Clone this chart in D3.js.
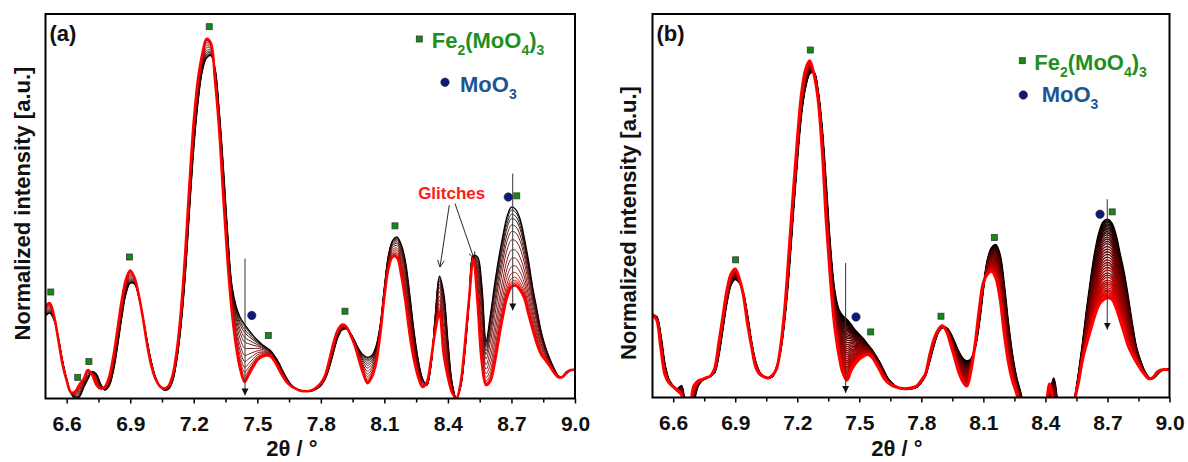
<!DOCTYPE html>
<html>
<head>
<meta charset="utf-8">
<script src="https://cdn.jsdelivr.net/npm/d3@7"></script>
<style>
  body { margin: 0; background: #fff; }
  svg { display: block; }
  text { font-family: "Liberation Sans", Arial, sans-serif; font-weight: bold; }
</style>
</head>
<body>
<svg id="chart" width="1188" height="462"></svg>
<script>
// 2θ sampling positions (degrees)
const twoTheta = [
  6.5,6.52,6.54,6.56,6.58,6.6,6.62,6.64,6.66,6.68,
  6.7,6.72,6.74,6.76,6.78,6.8,6.82,6.84,6.86,6.88,
  6.9,6.92,6.94,6.96,6.98,7,7.02,7.04,7.06,7.08,
  7.1,7.12,7.14,7.16,7.18,7.2,7.22,7.24,7.26,7.28,
  7.3,7.32,7.34,7.36,7.38,7.4,7.42,7.44,7.46,7.48,
  7.5,7.52,7.54,7.56,7.58,7.6,7.62,7.64,7.66,7.68,
  7.7,7.72,7.74,7.76,7.78,7.8,7.82,7.84,7.86,7.88,
  7.9,7.92,7.94,7.96,7.98,8,8.02,8.04,8.06,8.08,
  8.1,8.12,8.14,8.16,8.18,8.2,8.22,8.24,8.26,8.28,
  8.3,8.32,8.34,8.36,8.38,8.4,8.42,8.44,8.46,8.48,
  8.5,8.52,8.54,8.56,8.58,8.6,8.62,8.64,8.66,8.68,
  8.7,8.72,8.74,8.76,8.78,8.8,8.82,8.84,8.86,8.88,
  8.9,8.92,8.94,8.96,8.98,9
];

// (a) first and last pattern of the series, normalized intensity
const firstScanA = [
  0.215,0.222,0.205,0.160,0.100,0.050,0.014,0.000,0.004,0.028,
  0.050,0.070,0.064,0.038,0.022,0.032,0.070,0.135,0.210,0.272,
  0.300,0.298,0.265,0.212,0.150,0.095,0.055,0.032,0.022,0.024,
  0.045,0.100,0.190,0.320,0.490,0.650,0.770,0.850,0.885,0.892,
  0.860,0.750,0.600,0.430,0.295,0.240,0.210,0.193,0.178,0.164,
  0.152,0.142,0.134,0.126,0.112,0.095,0.072,0.052,0.036,0.027,
  0.022,0.019,0.019,0.020,0.025,0.033,0.050,0.080,0.120,0.158,
  0.178,0.181,0.170,0.150,0.128,0.113,0.107,0.112,0.135,0.190,
  0.290,0.375,0.412,0.420,0.400,0.355,0.270,0.175,0.100,0.052,
  0.034,0.085,0.215,0.318,0.275,0.150,0.040,0.000,0.030,0.120,
  0.250,0.372,0.368,0.295,0.150,0.215,0.295,0.365,0.425,0.475,
  0.498,0.492,0.468,0.420,0.360,0.290,0.232,0.175,0.135,0.105,
  0.080,0.060,0.055,0.065,0.073,0.075
];
const lastScanA = [
  0.240,0.248,0.215,0.155,0.090,0.047,0.016,0.018,0.036,0.050,
  0.074,0.062,0.036,0.026,0.030,0.055,0.108,0.180,0.255,0.310,
  0.333,0.315,0.270,0.210,0.140,0.085,0.050,0.032,0.026,0.032,
  0.060,0.125,0.230,0.380,0.560,0.720,0.830,0.895,0.935,0.925,
  0.830,0.700,0.520,0.355,0.225,0.135,0.075,0.043,0.062,0.082,
  0.100,0.108,0.112,0.110,0.098,0.078,0.058,0.042,0.032,0.026,
  0.021,0.019,0.019,0.022,0.029,0.040,0.060,0.100,0.145,0.178,
  0.192,0.187,0.165,0.138,0.100,0.065,0.040,0.055,0.090,0.165,
  0.265,0.340,0.369,0.366,0.320,0.250,0.165,0.100,0.055,0.030,
  0.042,0.100,0.175,0.222,0.115,0.055,0.015,0.000,0.040,0.140,
  0.260,0.365,0.250,0.095,0.035,0.045,0.090,0.155,0.215,0.265,
  0.290,0.294,0.282,0.262,0.220,0.180,0.142,0.115,0.100,0.085,
  0.068,0.056,0.056,0.068,0.074,0.075
];
// (a) height of the 8.70° reflection in each successive scan
const peakHeightsA = [0.498,0.490,0.479,0.468,0.451,0.434,0.412,0.386,0.364,0.343,0.325,0.312,0.304,0.299,0.295,0.290];

// (b) first and last pattern of the series
const firstScanB = [
  0.215,0.210,0.160,0.085,0.045,0.030,0.022,0.030,-0.030,-0.050,
  -0.010,0.030,0.045,0.050,0.056,0.065,0.110,0.180,0.250,0.295,
  0.308,0.300,0.270,0.210,0.140,0.090,0.064,0.054,0.050,0.055,
  0.078,0.125,0.210,0.330,0.480,0.620,0.740,0.810,0.845,0.848,
  0.800,0.700,0.550,0.390,0.280,0.230,0.212,0.203,0.190,0.175,
  0.164,0.152,0.138,0.125,0.108,0.090,0.068,0.048,0.036,0.028,
  0.024,0.022,0.022,0.024,0.028,0.040,0.058,0.095,0.135,0.168,
  0.182,0.182,0.168,0.145,0.120,0.102,0.095,0.100,0.130,0.195,
  0.285,0.358,0.390,0.398,0.372,0.295,0.195,0.112,0.052,0.012,
  -0.040,-0.080,-0.080,-0.080,-0.080,-0.050,0.000,0.050,-0.020,-0.080,
  -0.080,-0.080,-0.010,0.060,0.140,0.230,0.310,0.380,0.430,0.458,
  0.464,0.455,0.425,0.375,0.325,0.260,0.190,0.130,0.095,0.068,
  0.052,0.050,0.060,0.070,0.073,0.073
];
const lastScanB = [
  0.216,0.202,0.130,0.060,0.038,0.028,0.018,0.008,-0.030,-0.020,
  0.030,0.043,0.047,0.052,0.056,0.075,0.140,0.210,0.280,0.322,
  0.335,0.310,0.265,0.190,0.130,0.078,0.060,0.054,0.051,0.058,
  0.075,0.135,0.235,0.380,0.530,0.670,0.790,0.855,0.878,0.845,
  0.780,0.650,0.460,0.310,0.190,0.115,0.065,0.045,0.070,0.088,
  0.100,0.108,0.112,0.106,0.090,0.070,0.050,0.038,0.031,0.027,
  0.024,0.023,0.024,0.026,0.031,0.045,0.062,0.110,0.150,0.175,
  0.187,0.175,0.142,0.105,0.068,0.042,0.030,0.070,0.140,0.230,
  0.300,0.322,0.329,0.312,0.260,0.170,0.095,0.045,0.012,-0.030,
  -0.060,-0.080,-0.080,-0.080,-0.080,-0.040,0.035,-0.020,-0.080,-0.080,
  -0.080,-0.080,-0.010,0.040,0.100,0.142,0.180,0.215,0.243,0.255,
  0.260,0.257,0.237,0.204,0.170,0.135,0.112,0.092,0.075,0.060,
  0.049,0.052,0.066,0.072,0.073,0.072
];
const peakHeightsB = [
  0.464,0.460,0.457,0.453,0.450,0.446,0.442,0.438,0.433,0.429,
  0.424,0.418,0.413,0.407,0.401,0.394,0.387,0.380,0.373,0.366,
  0.359,0.352,0.346,0.339,0.332,0.325,0.319,0.313,0.306,0.301,
  0.296,0.291,0.286,0.281,0.277,0.273,0.270,0.267,0.264,0.262,0.260
];

// axis ticks
const majorTicks = [6.6, 6.9, 7.2, 7.5, 7.8, 8.1, 8.4, 8.7, 9.0];
const minorTicks = [6.75, 7.05, 7.35, 7.65, 7.95, 8.25, 8.55, 8.85];

// phase reflection markers [2θ, intensity]
const feMarksA = [[6.525,0.277],[6.652,0.055],[6.705,0.096],[6.896,0.368],[7.273,0.967],[7.552,0.164],[7.914,0.227],[8.150,0.449],[8.725,0.527]];
const moMarksA = [[7.474,0.216],[8.685,0.524]];
const feMarksB = [[6.902,0.359],[7.263,0.906],[7.555,0.171],[7.895,0.212],[8.153,0.417],[8.723,0.484]];
const moMarksB = [[7.484,0.210],[8.664,0.478]];

// trend arrows [2θ, from, to]
const trendArrowsA = [[7.442,0.364,0.008],[8.706,0.585,0.229]];
const trendArrowsB = [[7.434,0.351,0.012],[8.699,0.517,0.177]];
// "Glitches" pointers [[x0,y0],[x1,y1]]
const glitchPointers = [[[8.4065,0.503],[8.3626,0.342]],[[8.4335,0.507],[8.5232,0.364]]];
const glitchLabel = [8.4178, 0.518];

const svg = d3.select("#chart");
const defs = svg.append("defs");

defs.append("marker").attr("id", "headFilled")
  .attr("viewBox", "0 0 10 10").attr("refX", 10).attr("refY", 5)
  .attr("markerUnits", "userSpaceOnUse").attr("markerWidth", 7).attr("markerHeight", 11)
  .attr("orient", "auto")
  .append("path").attr("d", "M0,0 L10,5 L0,10 Z").attr("fill", "#111");
defs.append("marker").attr("id", "headOpen")
  .attr("viewBox", "0 0 10 10").attr("refX", 10).attr("refY", 5)
  .attr("markerUnits", "userSpaceOnUse").attr("markerWidth", 8).attr("markerHeight", 7)
  .attr("orient", "auto")
  .append("path").attr("d", "M0,0 L10,5 L0,10").attr("fill", "none").attr("stroke", "#111").attr("stroke-width", 1.2);

function scansFrom(first, last, heights) {
  const h0 = heights[0], hN = heights[heights.length - 1];
  return heights.map(h => {
    const w = (h0 - h) / (h0 - hN);
    return twoTheta.map((t, j) => [t, first[j] + w * (last[j] - first[j])]);
  });
}

function drawPanel(cfg) {
  const { id, left, right, top, bottom } = cfg;
  const x = d3.scaleLinear().domain([6.5, 9.0]).range([left, right]);
  const y = d3.scaleLinear().domain([0, 1]).range([bottom, top]);
  const g = svg.append("g");

  defs.append("clipPath").attr("id", "clip-" + id)
    .append("rect").attr("x", left).attr("y", top).attr("width", right - left).attr("height", bottom - top);

  const scans = scansFrom(cfg.first, cfg.last, cfg.heights);
  const n = scans.length;
  const color = d3.interpolateRgb("#000000", "#ff0000");
  const line = d3.line().x(d => x(d[0])).y(d => y(d[1])).curve(d3.curveCatmullRom.alpha(0.5));

  g.append("g").attr("clip-path", `url(#clip-${id})`)
    .selectAll("path").data(scans).join("path")
    .attr("d", line)
    .attr("fill", "none")
    .attr("stroke", (d, i) => color(i / (n - 1)))
    .attr("stroke-width", (d, i) => i === n - 1 ? cfg.lastWidth : (i === 0 ? cfg.firstWidth : cfg.width))
    .attr("stroke-linejoin", "round");

  // axes
  const ax = g.append("g").attr("transform", `translate(0,${bottom})`)
    .call(d3.axisBottom(x).tickValues(majorTicks).tickFormat(d3.format(".1f")).tickSize(5).tickPadding(13));
  ax.select(".domain").remove();
  ax.selectAll("line").attr("stroke", "#000").attr("stroke-width", 1.5);
  ax.selectAll("text").attr("font-size", 21).attr("fill", "#111")
    .attr("font-family", '"Liberation Sans", Arial, sans-serif').attr("font-weight", "bold");
  const axm = g.append("g").attr("transform", `translate(0,${bottom})`)
    .call(d3.axisBottom(x).tickValues(minorTicks).tickFormat("").tickSize(4));
  axm.select(".domain").remove();
  axm.selectAll("line").attr("stroke", "#000").attr("stroke-width", 1.5);

  g.append("rect").attr("x", left).attr("y", top).attr("width", right - left).attr("height", bottom - top)
    .attr("fill", "none").attr("stroke", "#000").attr("stroke-width", 2);

  // axis titles
  g.append("text").attr("x", cfg.xTitle[0]).attr("y", cfg.xTitle[1]).attr("text-anchor", "middle")
    .attr("font-size", 22).attr("fill", "#111").text("2θ / °");
  g.append("text").attr("transform", `translate(${cfg.yTitle[0]},${cfg.yTitle[1]}) rotate(-90)`)
    .attr("text-anchor", "middle").attr("font-size", 22).attr("fill", "#111")
    .text("Normalized intensity [a.u.]");
  g.append("text").attr("x", left + 4).attr("y", 41).attr("font-size", 22).attr("fill", "#111").text(cfg.tag);

  // trend arrows
  g.selectAll(".trend").data(cfg.arrows).join("line").attr("class", "trend")
    .attr("x1", d => x(d[0])).attr("x2", d => x(d[0]))
    .attr("y1", d => y(d[1])).attr("y2", d => y(d[2]))
    .attr("stroke", "#333").attr("stroke-width", 1).attr("marker-end", "url(#headFilled)");

  // reflection markers
  g.selectAll(".fe").data(cfg.fe).join("rect").attr("class", "fe")
    .attr("x", d => x(d[0]) - 3).attr("y", d => y(d[1]) - 3).attr("width", 6).attr("height", 6)
    .attr("fill", "#138a13").attr("stroke", "#3a3a3a").attr("stroke-width", 0.8);
  g.selectAll(".mo").data(cfg.mo).join("circle").attr("class", "mo")
    .attr("cx", d => x(d[0])).attr("cy", d => y(d[1])).attr("r", 4.2)
    .attr("fill", "#0c1a7a").attr("stroke", "#223").attr("stroke-width", 0.6);

  // legend
  const lg = cfg.legend;
  g.append("rect").attr("x", lg.sq[0] - 3).attr("y", lg.sq[1] - 3).attr("width", 6).attr("height", 6)
    .attr("fill", "#138a13").attr("stroke", "#3a3a3a").attr("stroke-width", 0.8);
  const t1 = g.append("text").attr("x", lg.feText[0]).attr("y", lg.feText[1]).attr("font-size", 22).attr("fill", "#1f8f1f");
  t1.append("tspan").text("Fe");
  t1.append("tspan").attr("dy", 7).attr("font-size", 14).text("2");
  t1.append("tspan").attr("dy", -7).text("(MoO");
  t1.append("tspan").attr("dy", 7).attr("font-size", 14).text("4");
  t1.append("tspan").attr("dy", -7).text(")");
  t1.append("tspan").attr("dy", 7).attr("font-size", 14).text("3");
  g.append("circle").attr("cx", lg.ci[0]).attr("cy", lg.ci[1]).attr("r", 4.2)
    .attr("fill", "#0c1a7a").attr("stroke", "#223").attr("stroke-width", 0.6);
  const t2 = g.append("text").attr("x", lg.moText[0]).attr("y", lg.moText[1]).attr("font-size", 22).attr("fill", "#1d5594");
  t2.append("tspan").text("MoO");
  t2.append("tspan").attr("dy", 7).attr("font-size", 14).text("3");

  return { g, x, y };
}

const pa = drawPanel({
  id: "a", left: 45.5, right: 575, top: 14, bottom: 398.5,
  first: firstScanA, last: lastScanA, heights: peakHeightsA,
  width: 0.9, firstWidth: 1.3, lastWidth: 2.6,
  xTitle: [292, 456], yTitle: [30, 203.5], tag: "(a)",
  arrows: trendArrowsA, fe: feMarksA, mo: moMarksA,
  legend: { sq: [419.3, 39], feText: [431.7, 48], ci: [445, 82.3], moText: [460, 91.7] }
});

drawPanel({
  id: "b", left: 652.5, right: 1169.5, top: 14, bottom: 397.5,
  first: firstScanB, last: lastScanB, heights: peakHeightsB,
  width: 1.3, firstWidth: 2, lastWidth: 3,
  xTitle: [897, 456], yTitle: [636, 223], tag: "(b)",
  arrows: trendArrowsB, fe: feMarksB, mo: moMarksB,
  legend: { sq: [1022.3, 60.7], feText: [1034.3, 70], ci: [1023.3, 95], moText: [1041.7, 101.7] }
});

// glitch annotation in (a)
pa.g.append("text").attr("x", pa.x(glitchLabel[0])).attr("y", pa.y(glitchLabel[1]))
  .attr("text-anchor", "middle").attr("font-size", 17).attr("fill", "#ff1a1a").text("Glitches");
pa.g.selectAll(".glitch").data(glitchPointers).join("line").attr("class", "glitch")
  .attr("x1", d => pa.x(d[0][0])).attr("y1", d => pa.y(d[0][1]))
  .attr("x2", d => pa.x(d[1][0])).attr("y2", d => pa.y(d[1][1]))
  .attr("stroke", "#111").attr("stroke-width", 0.9).attr("marker-end", "url(#headOpen)");
</script>
</body>
</html>
